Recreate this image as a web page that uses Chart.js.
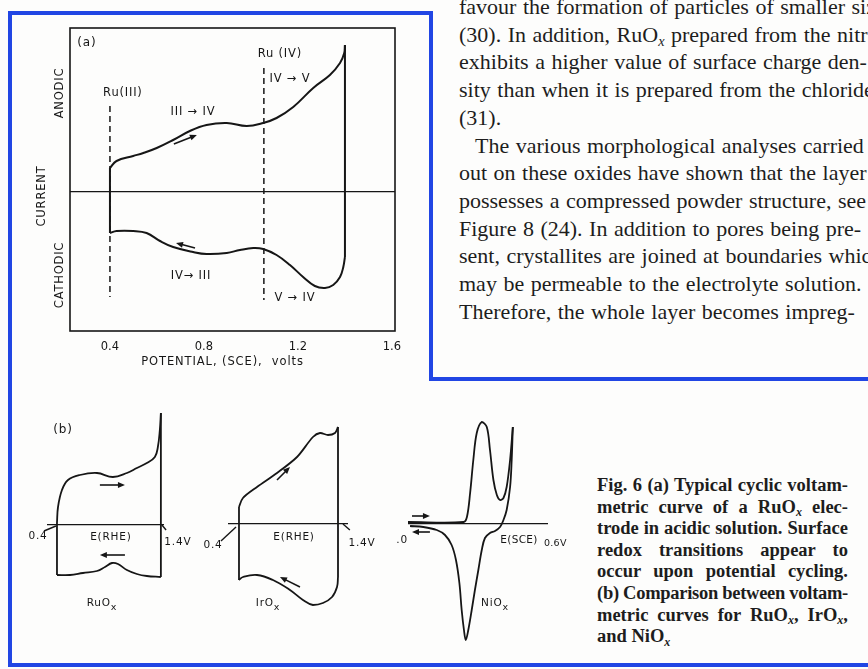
<!DOCTYPE html>
<html>
<head>
<meta charset="utf-8">
<script src="https://cdn.jsdelivr.net/npm/chart.js@4.4.1/dist/chart.umd.min.js"></script>
<style>
  html, body { margin: 0; padding: 0; background: #fdfdfc; }
  #page { position: relative; width: 868px; height: 669px; overflow: hidden; background: #fdfdfc; }
  canvas { position: absolute; }
  .blue { position: absolute; background: #2146e4; z-index: 5; }
  #text { position: absolute; left: 459px; top: -7px; font-family: "Liberation Serif", serif; font-size: 22px; word-spacing: 1px; line-height: 27.7px; color: #1d1d1d; white-space: nowrap; }
  #caption { position: absolute; left: 597px; top: 475px; width: 251px; font-family: "Liberation Serif", serif; font-weight: bold; font-size: 18.5px; line-height: 21.6px; color: #1d1d1d; }
  #caption div { white-space: nowrap; text-align: justify; text-align-last: justify; }
  #caption div.last { text-align-last: left; }
  .sx { font-style: italic; font-size: 0.65em; position: relative; top: 0.3em; line-height: 0; }
</style>
</head>
<body>
<div id="page">
  <canvas id="cvA" width="430" height="380" style="left:0;top:0"></canvas>
  <canvas id="cvRu" width="175" height="220" style="left:20px;top:400px"></canvas>
  <canvas id="cvIr" width="185" height="220" style="left:195px;top:400px"></canvas>
  <canvas id="cvNi" width="200" height="250" style="left:380px;top:400px"></canvas>

  <div id="text">
    <div>favour the formation of particles of smaller size</div>
    <div>(30). In addition, RuO<span class="sx">x</span> prepared from the nitrate</div>
    <div>exhibits a higher value of surface charge den-</div>
    <div>sity than when it is prepared from the chloride</div>
    <div>(31).</div>
    <div style="padding-left:16px">The various morphological analyses carried</div>
    <div>out on these oxides have shown that the layer</div>
    <div>possesses a compressed powder structure, see</div>
    <div>Figure 8 (24). In addition to pores being pre-</div>
    <div>sent, crystallites are joined at boundaries which</div>
    <div>may be permeable to the electrolyte solution.</div>
    <div>Therefore, the whole layer becomes impreg-</div>
  </div>

  <div id="caption">
    <div>Fig. 6 (a) Typical cyclic voltam-</div>
    <div>metric curve of a RuO<span class="sx">x</span> elec-</div>
    <div>trode in acidic solution. Surface</div>
    <div>redox transitions appear to</div>
    <div>occur upon potential cycling.</div>
    <div>(b) Comparison between voltam-</div>
    <div>metric curves for RuO<span class="sx">x</span>, IrO<span class="sx">x</span>,</div>
    <div class="last">and NiO<span class="sx">x</span></div>
  </div>

  <div class="blue" style="left:8px;top:11px;width:425px;height:4px"></div>
  <div class="blue" style="left:8px;top:11px;width:4px;height:656px"></div>
  <div class="blue" style="left:429px;top:11px;width:4px;height:370px"></div>
  <div class="blue" style="left:429px;top:377px;width:439px;height:4px"></div>
  <div class="blue" style="left:8px;top:663px;width:860px;height:4px"></div>
</div>

<script>
const INK = '#161616';
const FONT = '"DejaVu Sans", "Liberation Sans", sans-serif';

// (a) RuOx in acid: potential vs SCE (V), current in arbitrary units
const aTicks = [0.4, 0.8, 1.2, 1.6];
const aAnodicE = [0.40, 0.428, 0.499, 0.542, 0.599, 0.669, 0.740, 0.811, 0.897, 0.982, 1.052, 1.109, 1.180, 1.265, 1.336, 1.379, 1.397, 1.40];
const aAnodicI = [24, 31, 36, 39, 44, 52, 61, 67, 69, 66, 69, 74, 85, 104, 117, 129, 139, 147];
const aCathodicE = [1.40, 1.393, 1.379, 1.35, 1.315, 1.272, 1.222, 1.166, 1.109, 1.052, 1.010, 0.953, 0.897, 0.811, 0.754, 0.669, 0.613, 0.556, 0.499, 0.428, 0.40];
const aCathodicI = [-65, -75, -85, -93, -96, -94, -85, -73, -63, -57, -56, -58, -61, -62, -60, -55, -49, -41, -39, -39, -41];
// dashed markers for Ru(III) and Ru(IV)
const redoxE = [0.40, 1.055];
const redoxTop = [86, 124];
const redoxBottom = [-105, -108];

// (b) RuOx, E(RHE) 0.4 - 1.4 V
const ruTopE = [0.40, 0.41, 0.448, 0.506, 0.621, 0.785, 0.938, 1.073, 1.169, 1.265, 1.342, 1.371, 1.39, 1.40];
const ruTopI = [2, 18, 35, 45, 50, 52, 48, 52, 57, 62, 68, 78, 95, 112];
const ruBotE = [1.40, 1.265, 1.169, 1.073, 0.987, 0.929, 0.862, 0.785, 0.65, 0.525, 0.40];
const ruBotI = [-52, -51, -49, -45, -39, -38, -42, -46, -48, -50, -50];

// (b) IrOx, E(RHE) 0.4 - 1.4 V
const irTopE = [0.40, 0.44, 0.582, 0.784, 0.986, 1.147, 1.218, 1.299, 1.37, 1.40];
const irTopI = [17, 26, 37, 51, 67, 87, 91, 89, 91, 97];
const irBotE = [1.40, 1.39, 1.34, 1.248, 1.147, 1.046, 0.915, 0.743, 0.582, 0.44, 0.40];
const irBotI = [-53, -63, -73, -79, -81, -76, -66, -56, -51, -53, -56];

// (b) NiOx, E(SCE) 0 - 0.6 V
const niAnE = [0.0, 0.243, 0.258, 0.272, 0.286, 0.301, 0.323, 0.345, 0.359, 0.374, 0.389, 0.403, 0.418, 0.432, 0.447, 0.459];
const niAnI = [2, 2, 7, 31, 64, 91, 102, 97, 74, 44, 29, 24, 26, 37, 64, 97];
const niCaE = [0.459, 0.454, 0.447, 0.432, 0.418, 0.403, 0.381, 0.359, 0.337, 0.323, 0.308, 0.293, 0.279, 0.264, 0.253, 0.245, 0.235, 0.225, 0.21, 0.191, 0.162, 0.126, 0.067, 0.009];
const niCaI = [97, 64, 37, 14, 4, -3, -7, -9, -14, -26, -46, -66, -86, -106, -116, -106, -86, -59, -36, -21, -11, -6, -3, -2];

const pts = (xs, ys) => xs.map((x, i) => ({x: x, y: ys[i]}));
const line = (data, extra) => Object.assign({data: data, showLine: true, borderColor: INK, borderWidth: 2, pointRadius: 0, tension: 0, clip: false}, extra || {});
const last = a => a[a.length - 1];

function arrow(ctx, x0, y0, x1, y1) {
    const ang = Math.atan2(y1 - y0, x1 - x0), h = 7, w = 3;
    const c = Math.cos(ang), s = Math.sin(ang);
    ctx.beginPath();
    ctx.moveTo(x0, y0);
    ctx.lineTo(x1 - h * c * 0.6, y1 - h * s * 0.6);
    ctx.stroke();
    ctx.beginPath();
    ctx.moveTo(x1, y1);
    ctx.lineTo(x1 - h * c + w * s, y1 - h * s - w * c);
    ctx.lineTo(x1 - h * c - w * s, y1 - h * s + w * c);
    ctx.closePath();
    ctx.fill();
}

// frame, labels, arrows and pointer strokes, placed through the chart scales
const decor = {
    id: 'decor',
    afterDraw(chart, args, o) {
        const ctx = chart.ctx, a = chart.chartArea;
        const px = v => chart.scales.x.getPixelForValue(v);
        const py = v => chart.scales.y.getPixelForValue(v);
        ctx.save();
        ctx.fillStyle = INK;
        ctx.strokeStyle = INK;
        if (o.frame) {
            ctx.lineWidth = 1.6;
            ctx.strokeRect(a.left, a.top, a.right - a.left, a.bottom - a.top);
        }
        ctx.lineWidth = 1.4;
        (o.segments || []).forEach(([p, q]) => {
            ctx.beginPath();
            ctx.moveTo(px(p[0]), py(p[1]));
            ctx.lineTo(px(q[0]), py(q[1]));
            ctx.stroke();
        });
        ctx.lineWidth = 1.6;
        (o.arrows || []).forEach(([p, q]) => arrow(ctx, px(p[0]), py(p[1]), px(q[0]), py(q[1])));
        ctx.textBaseline = 'middle';
        (o.labels || []).forEach(l => {
            const size = l.size || 11.5;
            const x = l.dx !== undefined ? a.left + l.dx : px(l.x);
            const y = l.dy !== undefined ? a.bottom + l.dy : py(l.y);
            ctx.save();
            ctx.translate(x, y);
            if (l.rot) ctx.rotate(l.rot * Math.PI / 180);
            ctx.letterSpacing = (l.ls !== undefined ? l.ls : 0.8) + 'px';
            ctx.font = size + 'px ' + FONT;
            ctx.textAlign = 'left';
            const w = ctx.measureText(l.text).width;
            let ws = 0;
            if (l.sub) {
                ctx.font = (size - 1) + 'px ' + FONT;
                ws = ctx.measureText(l.sub).width;
                ctx.fillText(l.sub, -(w + ws) / 2 + w, size * 0.4);
                ctx.font = size + 'px ' + FONT;
            }
            ctx.fillText(l.text, -(w + ws) / 2, 0);
            ctx.restore();
        });
        ctx.restore();
    }
};

function baseOptions(xr, yr, pad, decorOpts) {
    return {
        animation: false,
        responsive: false,
        devicePixelRatio: 1,
        layout: {padding: pad},
        plugins: {legend: {display: false}, tooltip: {enabled: false}, decor: decorOpts},
        scales: {
            x: {type: 'linear', min: xr[0], max: xr[1], display: false},
            y: {
                type: 'linear', min: yr[0], max: yr[1],
                grid: {color: INK, lineWidth: 1.2, drawTicks: false},
                border: {display: false},
                ticks: {display: false},
                afterBuildTicks: s => { s.ticks = [{value: 0}]; },
                afterFit: s => { s.width = 0; }
            }
        }
    };
}

// ---- panel (a)
const optA = baseOptions([0.23, 1.613], [-139, 164], {left: 0, top: 28, right: 35, bottom: 0}, {
    frame: true,
    arrows: [[[0.672, 48], [0.77, 57]], [[0.762, -56], [0.681, -51]]],
    labels: [
        {text: '(a)', x: 0.302, y: 149, size: 12},
        {text: 'Ru(III)', x: 0.455, y: 99},
        {text: 'III \u2192 IV', x: 0.753, y: 80},
        {text: 'Ru (IV)', x: 1.123, y: 138},
        {text: 'IV \u2192 V', x: 1.166, y: 113},
        {text: 'IV\u2192 III', x: 0.745, y: -84},
        {text: 'V \u2192 IV', x: 1.187, y: -106},
        {text: 'ANODIC', dx: -10, y: 99, rot: -90},
        {text: 'CURRENT', dx: -28, y: -4, rot: -90},
        {text: 'CATHODIC', dx: -10, y: -83, rot: -90},
        {text: 'POTENTIAL, (SCE),  volts', x: 0.879, dy: 31, size: 11.5, ls: 0.9}
    ]
});
optA.scales.x = {
    type: 'linear', min: 0.23, max: 1.613,
    grid: {display: false, drawTicks: false},
    border: {display: false},
    afterBuildTicks: s => { s.ticks = aTicks.map(v => ({value: v})); },
    afterFit: s => { s.height = 49; },
    ticks: {padding: 9, color: INK, font: {family: FONT, size: 11.5}, callback: v => v.toFixed(1)}
};
optA.scales.y.afterFit = s => { s.width = 70; };

new Chart(document.getElementById('cvA'), {
    type: 'scatter',
    data: {datasets: [
        line(pts(aAnodicE, aAnodicI), {tension: 0.4}),
        line(pts(aCathodicE, aCathodicI), {tension: 0.4}),
        line([{x: aAnodicE[0], y: last(aCathodicI)}, {x: aAnodicE[0], y: aAnodicI[0]}]),
        line([{x: last(aAnodicE), y: last(aAnodicI)}, {x: last(aAnodicE), y: aCathodicI[0]}]),
        ...redoxE.map((e, i) => line([{x: e, y: redoxTop[i]}, {x: e, y: redoxBottom[i]}], {borderWidth: 1.5, borderDash: [6, 4]}))
    ]},
    options: optA,
    plugins: [decor]
});

// ---- panel (b) RuOx
new Chart(document.getElementById('cvRu'), {
    type: 'scatter',
    data: {datasets: [
        line(pts(ruTopE, ruTopI), {tension: 0.4, borderWidth: 1.8}),
        line(pts(ruBotE, ruBotI), {tension: 0.4, borderWidth: 1.8}),
        line([{x: ruTopE[0], y: last(ruBotI)}, {x: ruTopE[0], y: ruTopI[0]}], {borderWidth: 1.8}),
        line([{x: last(ruTopE), y: last(ruTopI)}, {x: last(ruTopE), y: ruBotI[0]}], {borderWidth: 1.8})
    ]},
    options: baseOptions([0.304, 1.43], [-52, 112], {left: 27, top: 13, right: 31, bottom: 43}, {
        arrows: [[[0.813, 40], [1.054, 40]], [[1.054, -30], [0.813, -30]]],
        segments: [[[0.275, -6], [0.39, -1]], [[1.45, -5], [1.41, 0]]],
        labels: [
            {text: '(b)', x: 0.458, y: 95, size: 12},
            {text: '0.4', x: 0.217, y: -11, size: 10.5},
            {text: 'E(RHE)', x: 0.919, y: -12, size: 10.5},
            {text: '1.4V', x: 1.563, y: -17, size: 10.5},
            {text: 'RuO', sub: 'x', x: 0.833, y: -78, size: 10.5}
        ]
    }),
    plugins: [decor]
});

// ---- panel (b) IrOx
new Chart(document.getElementById('cvIr'), {
    type: 'scatter',
    data: {datasets: [
        line(pts(irTopE, irTopI), {tension: 0.3, borderWidth: 1.8}),
        line(pts(irBotE, irBotI), {tension: 0.4, borderWidth: 1.8}),
        line([{x: irTopE[0], y: last(irBotI)}, {x: irTopE[0], y: irTopI[0]}], {borderWidth: 1.8}),
        line([{x: last(irTopE), y: last(irTopI)}, {x: last(irTopE), y: irBotI[0]}], {borderWidth: 1.8})
    ]},
    options: baseOptions([0.289, 1.501], [-81, 97], {left: 33, top: 27, right: 32, bottom: 15}, {
        arrows: [[[0.784, 44], [0.915, 57]], [[1.016, -63], [0.814, -53]]],
        segments: [[[0.218, -17], [0.37, -3]], [[1.52, -6], [1.45, 0]]],
        labels: [
            {text: '0.4', x: 0.137, y: -21, size: 10.5},
            {text: 'E(RHE)', x: 0.956, y: -13, size: 10.5},
            {text: '1.4V', x: 1.642, y: -19, size: 10.5},
            {text: 'IrO', sub: 'x', x: 0.693, y: -79, size: 10.5}
        ]
    }),
    plugins: [decor]
});

// ---- panel (b) NiOx
new Chart(document.getElementById('cvNi'), {
    type: 'scatter',
    data: {datasets: [
        line(pts(niAnE, niAnI), {tension: 0.35, borderWidth: 1.8}),
        line(pts(niCaE, niCaI), {tension: 0.35, borderWidth: 1.8})
    ]},
    options: baseOptions([0, 0.613], [-116, 102], {left: 28, top: 22, right: 32, bottom: 10}, {
        arrows: [[[0.0175, 8], [0.096, 8]], [[0.096, -8], [0.0175, -8]]],
        labels: [
            {text: '.0', x: -0.026, y: -16, size: 10.5},
            {text: 'E(SCE)', x: 0.486, y: -16, size: 10.5, ls: 0.3},
            {text: '0.6V', x: 0.645, y: -20, size: 9.5, ls: 0.3},
            {text: 'NiO', sub: 'x', x: 0.381, y: -79, size: 10.5}
        ]
    }),
    plugins: [decor]
});

// keep every justified caption line within the column width
document.querySelectorAll('#caption div:not(.last)').forEach(d => {
    const probe = document.createElement('span');
    probe.innerHTML = d.innerHTML;
    probe.style.whiteSpace = 'nowrap';
    d.innerHTML = '';
    d.appendChild(probe);
    const w = probe.getBoundingClientRect().width;
    if (w > 251) d.style.letterSpacing = ((251 - w) / d.textContent.length) + 'px';
    d.innerHTML = probe.innerHTML;
});
</script>
</body>
</html>
